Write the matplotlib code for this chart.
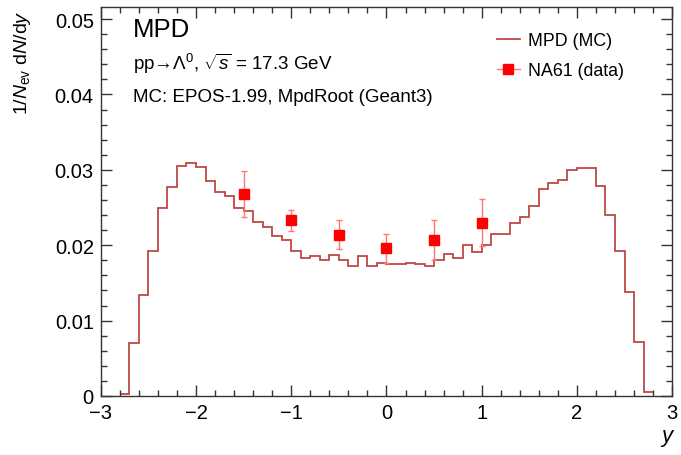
import numpy as np
import matplotlib
matplotlib.use('Agg')
from matplotlib import pyplot as plt
from matplotlib.lines import Line2D
from matplotlib.ticker import MultipleLocator

plt.rcParams['font.family'] = ['Liberation Sans', 'DejaVu Sans']
plt.rcParams['mathtext.fontset'] = 'custom'
plt.rcParams['mathtext.rm'] = 'Liberation Sans'
plt.rcParams['mathtext.it'] = 'Liberation Sans:italic'
plt.rcParams['axes.unicode_minus'] = True

# MPD (MC) histogram, bins of 0.1 in y from -2.8 to 2.8
mc_edges = np.round(np.arange(-2.8, 2.81, 0.1), 1)
mc_values = [
    0.0003, 0.0070, 0.0134, 0.0192, 0.0250, 0.0277, 0.0305, 0.0309,
    0.0304, 0.0285, 0.0271, 0.0265, 0.0249, 0.0245, 0.0231, 0.0224,
    0.0212, 0.0207, 0.0193, 0.0183, 0.0186, 0.0180, 0.0187, 0.0180,
    0.0173, 0.0186, 0.0173, 0.0176, 0.0175, 0.0175, 0.0177, 0.0175,
    0.0173, 0.0181, 0.0188, 0.0183, 0.0200, 0.0191, 0.0200, 0.0215,
    0.0215, 0.0230, 0.0238, 0.0252, 0.0274, 0.0283, 0.0286, 0.0300,
    0.0303, 0.0303, 0.0278, 0.0240, 0.0193, 0.0138, 0.0071, 0.0005,
]

# NA61 data
na61_y = [-1.5, -1.0, -0.5, 0.0, 0.5, 1.0]
na61_val = [0.0268, 0.0233, 0.0214, 0.0196, 0.0207, 0.0230]
na61_err = [0.0031, 0.0014, 0.0019, 0.0019, 0.0027, 0.0031]

hist_color = '#bf4843'
data_color = '#ff0000'
err_color = '#ff7777'

fig = plt.figure(figsize=(6.81, 4.56), dpi=100)
ax = fig.add_axes([0.148, 0.1294, 0.839, 0.853])

ax.stairs(mc_values, mc_edges, baseline=None, color=hist_color, lw=1.3)
ax.errorbar(na61_y, na61_val, yerr=na61_err, fmt='none', ecolor=err_color,
            elinewidth=1.0, capsize=2.5, capthick=1.0)
ax.plot(na61_y, na61_val, 's', color=data_color, markersize=7, ls='none')

ax.set_xlim(-3, 3)
ax.set_ylim(0, 0.0516)
ax.xaxis.set_major_locator(MultipleLocator(1))
ax.xaxis.set_minor_locator(MultipleLocator(0.2))
ax.yaxis.set_major_locator(MultipleLocator(0.01))
ax.yaxis.set_minor_locator(MultipleLocator(0.002))
ax.set_yticks([0, 0.01, 0.02, 0.03, 0.04, 0.05])
ax.set_yticklabels(['0', '0.01', '0.02', '0.03', '0.04', '0.05'])
ax.tick_params(which='both', direction='in', top=True, right=True,
               labelsize=14.5, width=1.0, color='#333333')
ax.tick_params(which='major', length=8)
ax.tick_params(which='minor', length=4)
ax.tick_params(axis='x', pad=5)
ax.tick_params(axis='y', pad=5)
for sp in ax.spines.values():
    sp.set_color('#333333')
    sp.set_linewidth(1.0)

ax.set_ylabel(r'1/$N_{\mathrm{ev}}$ d$N$/d$y$', fontsize=14, loc='top')
ax.yaxis.set_label_coords(-0.118, 0.995)
ax.set_xlabel('y', fontsize=16, style='italic', loc='right')
ax.xaxis.set_label_coords(1.0, -0.075)

ax.text(0.056, 0.943, 'MPD', transform=ax.transAxes, fontsize=18.5, va='center')
ax.text(0.056, 0.856, 'pp\u2192\u039b$^0$, $\\sqrt{s}$ = 17.3 GeV',
        transform=ax.transAxes, fontsize=13.5, va='center')
ax.text(0.056, 0.771, 'MC: EPOS-1.99, MpdRoot (Geant3)',
        transform=ax.transAxes, fontsize=13.5, va='center')

handles = [
    Line2D([], [], color=hist_color, lw=1.3),
    Line2D([], [], color=err_color, lw=1.0, marker='s', markersize=7,
           markerfacecolor=data_color, markeredgecolor=data_color),
]
ax.legend(handles, ['MPD (MC)', 'NA61 (data)'], loc='upper left',
          bbox_to_anchor=(0.693, 0.935), frameon=False, fontsize=12.8,
          borderpad=0, borderaxespad=0, handlelength=1.3,
          handletextpad=0.45, labelspacing=0.7)

plt.savefig('out.png', dpi=100)
